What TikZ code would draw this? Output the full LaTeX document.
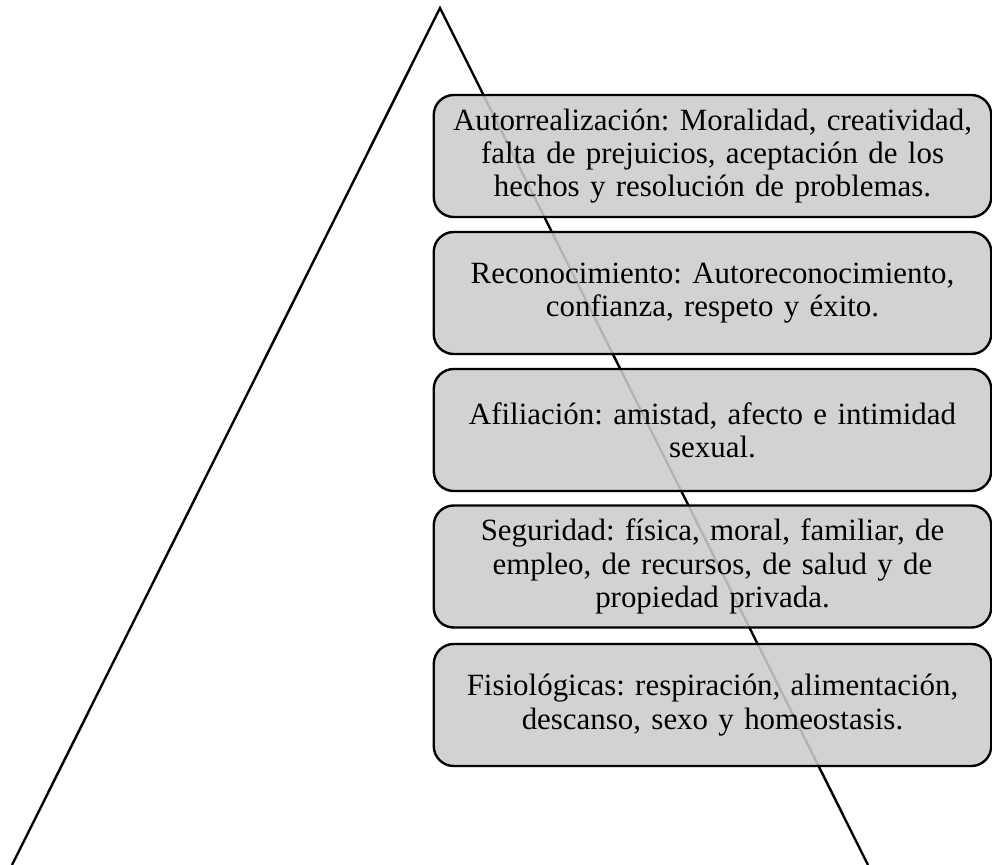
\documentclass[tikz,border=0pt]{standalone}
\usepackage{fontspec}
\setmainfont{Liberation Serif}
\usepackage{tikz}
\usetikzlibrary{positioning}
\frenchspacing

\tikzset{
  needbox/.style={draw=black,line width=1.7pt,rounded corners=0.5cm,
    fill=black!20,fill opacity=0.88,text opacity=1,
    minimum width=13.875cm,minimum height=3.05cm,text width=13.7cm,
    align=center,font=\fontsize{22}{23.6}\selectfont}
}

\begin{document}
\begin{tikzpicture}[x=0.025cm,y=-0.025cm]
\useasboundingbox (0,0) rectangle (992,865);
% pyramid
\coordinate (apex) at (440,8);
\coordinate (left) at (12,865);
\coordinate (right) at (868,865);
\draw[line width=1.7pt] (left) -- (apex) -- (right);
% levels
\node[needbox] (autorr) at (712.5,156) {Autorrealización: Moralidad, creatividad,\\ falta de prejuicios, aceptación de los\\ hechos y resolución de problemas.};
\node[needbox] (recon) at (712.5,293) {Reconocimiento: Autoreconocimiento,\\ confianza, respeto y éxito.};
\node[needbox] (afil) at (712.5,430) {Afiliación: amistad, afecto e intimidad\\ sexual.};
\node[needbox] (segur) at (712.5,566.5) {Seguridad: física, moral, familiar, de\\ empleo, de recursos, de salud y de\\ propiedad privada.};
\node[needbox] (fisio) at (712.5,705) {Fisiológicas: respiración, alimentación,\\ descanso, sexo y homeostasis.};
\end{tikzpicture}
\end{document}
